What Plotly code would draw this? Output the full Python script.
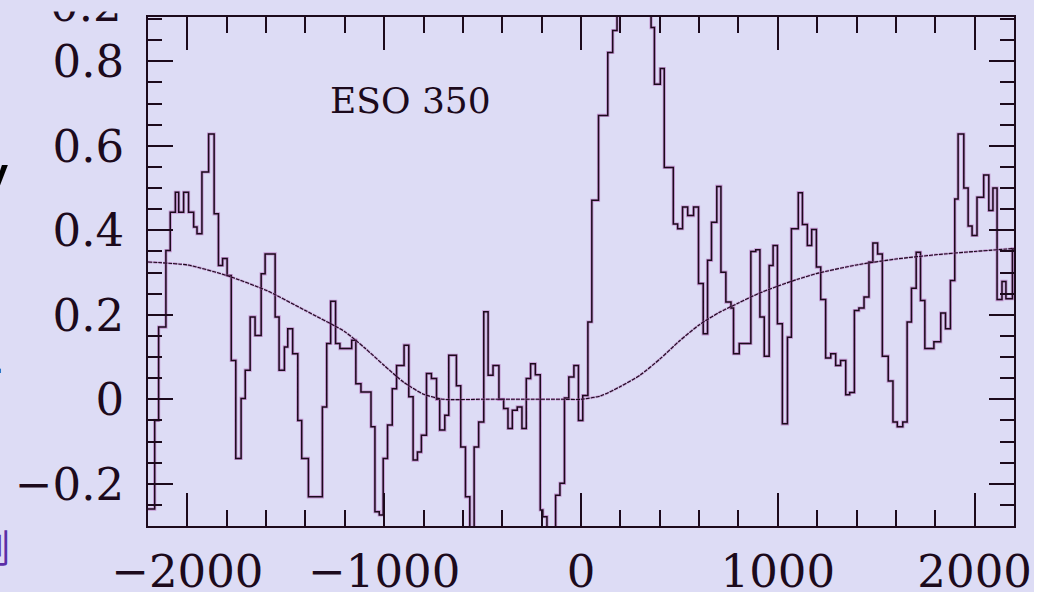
import plotly.graph_objects as go

# Histogram of the line profile: left edge of each step (km/s) and its level
vel_edges = [
    -2200, -2166, -2146, -2109, -2087, -2061, -2044, -2019, -1994, -1968,
    -1951, -1926, -1892, -1864, -1842, -1821, -1798, -1777, -1754, -1727,
    -1706, -1681, -1656, -1625, -1605, -1554, -1534, -1507, -1490, -1465,
    -1439, -1419, -1385, -1314, -1292, -1272, -1247, -1225, -1165, -1144,
    -1118, -1067, -1047, -1025, -1005, -983, -959, -937, -899, -875,
    -853, -831, -811, -785, -760, -734, -718, -692, -672, -633,
    -611, -587, -565, -543, -520, -494, -472, -447, -417, -393,
    -371, -349, -324, -300, -278, -256, -232, -207, -194, -173,
    -129, -107, -84, -62, -36, -13, 9, 35, 55, 89,
    136, 161, 183, 220, 260, 300, 330, 356, 373, 403,
    423, 469, 491, 516, 542, 572, 597, 621, 643, 663,
    690, 711, 736, 762, 775, 804, 863, 888, 909, 931,
    956, 976, 998, 1023, 1049, 1069, 1104, 1125, 1150, 1172,
    1196, 1218, 1243, 1269, 1294, 1319, 1345, 1365, 1389, 1412,
    1438, 1463, 1483, 1507, 1531, 1561, 1585, 1607, 1635, 1657,
    1679, 1703, 1725, 1747, 1793, 1828, 1852, 1877, 1899, 1916,
    1945, 1967, 1987, 2012, 2046, 2072, 2093, 2114, 2139, 2159,
    2192,
]
profile = [
    -0.26, -0.050, 0.171, 0.352, 0.443, 0.490, 0.443, 0.490, 0.443, 0.408,
    0.392, 0.538, 0.628, 0.439, 0.317, 0.333, 0.293, 0.092, -0.140, 0.002,
    0.069, 0.195, 0.151, 0.297, 0.344, 0.195, 0.069, 0.124, 0.167, 0.108,
    -0.050, -0.140, -0.231, -0.018, 0.132, 0.232, 0.132, 0.120, 0.140, 0.037,
    0.017, -0.065, -0.266, -0.274, -0.140, -0.061, 0.025, 0.080, 0.128, 0.006,
    -0.144, -0.125, -0.085, 0.061, 0.049, 0.000, -0.073, -0.038, 0.104, 0.032,
    -0.113, -0.231, -0.330, -0.113, -0.054, 0.207, 0.057, 0.080, 0.000, -0.022,
    -0.069, -0.026, -0.018, -0.069, 0.049, 0.084, 0.058, -0.262, -0.278, -0.330,
    -0.227, -0.199, 0.003, 0.053, 0.080, -0.050, 0.009, 0.183, 0.471, 0.672,
    0.821, 0.873, 0.960, 1.050, 1.100, 1.020, 0.950, 0.880, 0.746, 0.783,
    0.549, 0.415, 0.404, 0.455, 0.435, 0.455, 0.274, 0.155, 0.329, 0.419,
    0.504, 0.301, 0.230, 0.216, 0.108, 0.132, 0.350, 0.354, 0.195, 0.102,
    0.317, 0.364, 0.179, -0.058, 0.147, 0.404, 0.489, 0.414, 0.364, 0.402,
    0.313, 0.236, 0.098, 0.108, 0.080, 0.092, 0.011, 0.016, 0.210, 0.216,
    0.242, 0.325, 0.370, 0.344, 0.102, 0.043, -0.054, -0.065, -0.054, 0.183,
    0.263, 0.348, 0.234, 0.120, 0.136, 0.204, 0.167, 0.281, 0.474, 0.628,
    0.500, 0.410, 0.388, 0.478, 0.531, 0.447, 0.500, 0.236, 0.279, 0.238,
    0.356,
]
vel_end = 2200

# Smooth model profile
model_vel = [-2200, -2000, -1800, -1600, -1400, -1200, -1100, -1000, -900, -800,
             -700, -500, -300, -100, 0, 100, 200, 300, 400, 500,
             600, 700, 800, 900, 1000, 1100, 1200, 1400, 1600, 1800,
             2000, 2200]
model_val = [0.325, 0.318, 0.293, 0.258, 0.210, 0.160, 0.122, 0.080, 0.040, 0.012,
             0.000, 0.000, 0.000, 0.000, 0.000, 0.008, 0.030, 0.057, 0.095, 0.138,
             0.176, 0.205, 0.228, 0.250, 0.268, 0.284, 0.298, 0.318, 0.332, 0.342,
             0.350, 0.357]

x_tick_vals = [-2000, -1000, 0, 1000, 2000]
x_tick_text = ["\u22122000", "\u22121000", "0", "1000", "2000"]
y_tick_vals = [-0.2, 0, 0.2, 0.4, 0.6, 0.8]
y_tick_text = ["\u22120.2", "0", "0.2", "0.4", "0.6", "0.8"]

title_text = "ESO 350"

W, H = 1051, 592
ML, MR, MT, MB = 148, 37, 17, 66
PW, PH = W - ML - MR, H - MT - MB

BG = "#DDDCF5"
INK = "#1c0a1c"
HALO = "rgba(175,95,180,0.55)"
SERIF = "DejaVu Serif"


def px(x):
    return (x - ML) / PW


def py(y):
    return 1 - (y - MT) / PH


hx = vel_edges + [vel_end]
hy = profile + [profile[-1]]

fig = go.Figure()
fig.add_trace(go.Scatter(x=hx, y=hy, mode="lines", line=dict(shape="hv", color=HALO, width=3.2),
                         hoverinfo="skip", showlegend=False))
fig.add_trace(go.Scatter(x=hx, y=hy, mode="lines", line=dict(shape="hv", color=INK, width=1.5),
                         showlegend=False))
fig.add_trace(go.Scatter(x=model_vel, y=model_val, mode="lines",
                         line=dict(shape="spline", smoothing=0.6, color=HALO, width=2.4, dash="4px,1px"),
                         hoverinfo="skip", showlegend=False))
fig.add_trace(go.Scatter(x=model_vel, y=model_val, mode="lines",
                         line=dict(shape="spline", smoothing=0.6, color=INK, width=1.1, dash="4px,1px"),
                         showlegend=False))

axis_common = dict(showline=True, linecolor=INK, linewidth=1.8, mirror="ticks",
                   ticks="inside", tickcolor=INK, tickwidth=1.5, automargin=False,
                   showgrid=False, zeroline=False, tickmode="array",
                   tickfont=dict(family=SERIF, size=45, color=INK))

fig.update_xaxes(range=[-2200, 2200], tickvals=x_tick_vals, ticktext=x_tick_text,
                 ticklen=33, ticklabelstandoff=5,
                 minor=dict(dtick=200, tick0=0, ticklen=16, ticks="inside",
                            tickcolor=INK, tickwidth=1.5),
                 **axis_common)
fig.update_yaxes(range=[-0.3, 0.905], tickvals=y_tick_vals, ticktext=y_tick_text,
                 ticklen=25, ticklabelstandoff=13,
                 minor=dict(dtick=0.05, tick0=0, ticklen=14, ticks="inside",
                            tickcolor=INK, tickwidth=1.5),
                 **axis_common)

annotations = [
    dict(x=-865, y=0.707, xref="x", yref="y", text=title_text, showarrow=False,
         font=dict(family=SERIF, size=36, color=INK), xanchor="center", yanchor="middle"),
    # fragments of neighbouring page content at the left edge
    dict(x=px(10), y=py(139), xref="paper", yref="paper", text="y", showarrow=False,
         font=dict(family="Liberation Sans", size=64, color="#000000"),
         xanchor="right", yanchor="top"),
    dict(x=px(6), y=py(335), xref="paper", yref="paper", text=".", showarrow=False,
         font=dict(family="Liberation Sans", size=40, color="#000000"),
         xanchor="right", yanchor="top"),
    dict(x=px(12), y=py(545), xref="paper", yref="paper", text="例", showarrow=False,
         font=dict(family="Noto Sans CJK SC", size=38, color="#5b2ea6"),
         xanchor="right", yanchor="middle"),
    # lower part of a label belonging to the panel above
    dict(x=px(124), y=py(34), xref="paper", yref="paper", text="0.2", showarrow=False,
         font=dict(family=SERIF, size=45, color=INK), xanchor="right", yanchor="bottom"),
    dict(x=px(90), y=py(12), xref="paper", yref="paper", text=" ", showarrow=False,
         width=120, height=40, bgcolor=BG, xanchor="center", yanchor="bottom"),
]

shapes = [
    # page strip to the right of the figure
    dict(type="rect", xref="paper", yref="paper", x0=px(1034), x1=px(1060),
         y0=py(-10), y1=py(600), fillcolor="#FFFFFF", line=dict(width=0), layer="above"),
]

fig.update_layout(width=W, height=H, margin=dict(l=ML, r=MR, t=MT, b=MB, pad=0),
                  paper_bgcolor=BG, plot_bgcolor=BG, showlegend=False,
                  annotations=annotations, shapes=shapes)

fig.write_html("out.html")
